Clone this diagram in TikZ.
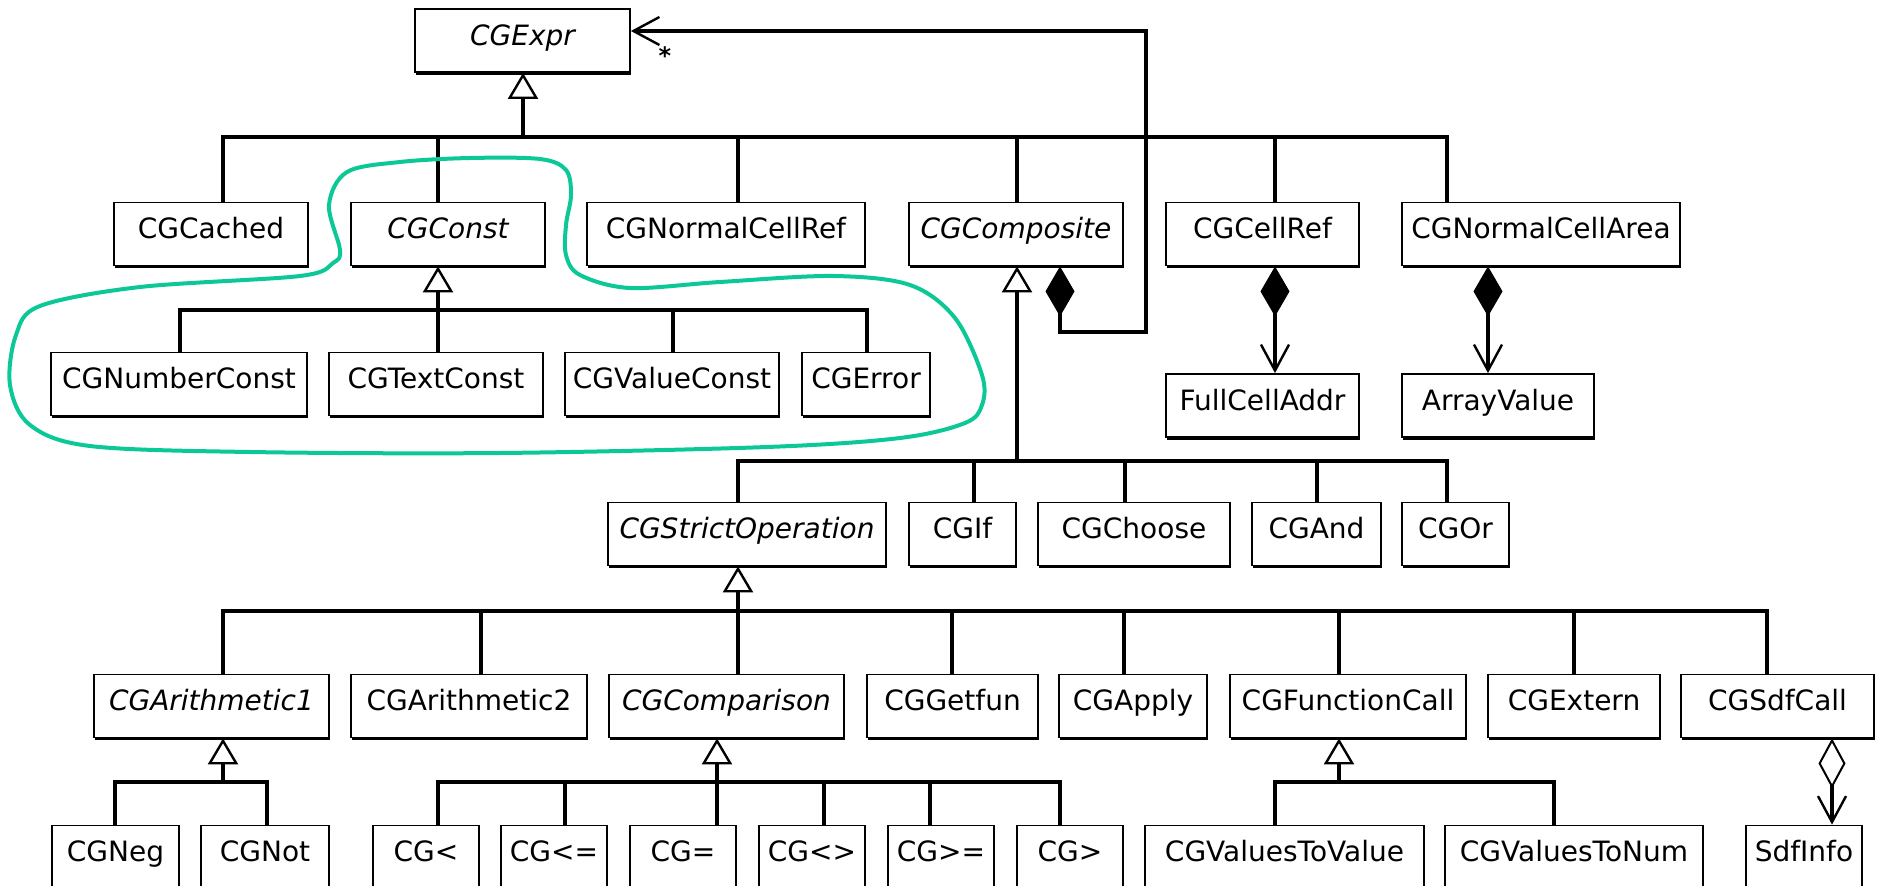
\documentclass[tikz,border=0pt]{standalone}
\usepackage{fontspec}
\setmainfont{DejaVu Sans}
\usetikzlibrary{arrows.meta,shadows}

\definecolor{marker}{RGB}{12,200,150}

\tikzset{
  cls/.style={draw, line width=1.8pt, fill=white, inner sep=0pt,
    minimum height=63pt, text height=21pt, text depth=12pt,
    font=\fontsize{28}{32}\selectfont,
    drop shadow={shadow xshift=1.3pt, shadow yshift=-2.8pt, fill=black, opacity=1}},
  absclass/.style={cls, font=\fontsize{28}{32}\selectfont\itshape},
  link/.style={line width=3.2pt},
  inherit/.style={link, -{Triangle[fill=white, length=26pt, width=30pt, line width=2.4pt]}},
  owns/.style={link, {Diamond[length=50pt, width=29pt, line width=1pt]}-{Straight Barb[length=26pt, width=28pt, line width=2.4pt]}},
  shares/.style={link, {Diamond[fill=white, length=50pt, width=27pt, line width=2pt]}-{Straight Barb[length=26pt, width=28pt, line width=2.4pt]}}
}

\begin{document}
\begin{tikzpicture}[x=1pt, y=-1pt]
\useasboundingbox (0,0) rectangle (1883,886);

% root
\node[absclass, minimum width=215pt] (nExpr) at (522.5,40.5) {CGExpr};
\node[font=\fontsize{24}{24}\selectfont\bfseries, inner sep=0pt, anchor=base] (nStar) at (665,64) {*};

% first level
\node[cls, minimum width=194pt] (nCached) at (211,234) {CGCached};
\node[absclass, minimum width=194pt] (nConst) at (448,234) {CGConst};
\node[cls, minimum width=278pt] (nNormalCellRef) at (726,234) {CGNormalCellRef};
\node[absclass, minimum width=214pt] (nComposite) at (1016,234) {CGComposite};
\node[cls, minimum width=193pt] (nCellRef) at (1262.5,234) {CGCellRef};
\node[cls, minimum width=278pt] (nNormalCellArea) at (1541,234) {CGNormalCellArea};

% constants
\node[cls, minimum width=256pt] (nNumberConst) at (179,384) {CGNumberConst};
\node[cls, minimum width=214pt] (nTextConst) at (436,384) {CGTextConst};
\node[cls, minimum width=214pt] (nValueConst) at (672,384) {CGValueConst};
\node[cls, minimum width=128pt] (nError) at (866,384) {CGError};

% owned parts
\node[cls, minimum width=193pt] (nFullCellAddr) at (1262.5,405.5) {FullCellAddr};
\node[cls, minimum width=192pt] (nArrayValue) at (1498,405.5) {ArrayValue};

% composites
\node[absclass, minimum width=278pt] (nStrictOp) at (747,534) {CGStrictOperation};
\node[cls, minimum width=107pt] (nIf) at (962.5,534) {CGIf};
\node[cls, minimum width=192pt] (nChoose) at (1134,534) {CGChoose};
\node[cls, minimum width=129pt] (nAnd) at (1316.5,534) {CGAnd};
\node[cls, minimum width=107pt] (nOr) at (1455.5,534) {CGOr};

% strict operations
\node[absclass, minimum width=235pt] (nArith1) at (211.5,706) {CGArithmetic1};
\node[cls, minimum width=236pt] (nArith2) at (469,706) {CGArithmetic2};
\node[absclass, minimum width=235pt] (nComparison) at (726.5,706) {CGComparison};
\node[cls, minimum width=171pt] (nGetfun) at (952.5,706) {CGGetfun};
\node[cls, minimum width=148pt] (nApply) at (1133,706) {CGApply};
\node[cls, minimum width=236pt] (nFunctionCall) at (1348,706) {CGFunctionCall};
\node[cls, minimum width=172pt] (nExtern) at (1574,706) {CGExtern};
\node[cls, minimum width=193pt] (nSdfCall) at (1777.5,706) {CGSdfCall};

% leaves
\node[cls, minimum width=127pt] (nNeg) at (115.5,857) {CGNeg};
\node[cls, minimum width=128pt] (nNot) at (265,857) {CGNot};
\node[cls, minimum width=106pt] (nLt) at (426,857) {CG<};
\node[cls, minimum width=106pt] (nLe) at (554,857) {CG<=};
\node[cls, minimum width=106pt] (nEq) at (683,857) {CG=};
\node[cls, minimum width=106pt] (nNe) at (812,857) {CG<>};
\node[cls, minimum width=106pt] (nGe) at (941,857) {CG>=};
\node[cls, minimum width=106pt] (nGt) at (1070,857) {CG>};
\node[cls, minimum width=279pt] (nValuesToValue) at (1284.5,857) {CGValuesToValue};
\node[cls, minimum width=258pt] (nValuesToNum) at (1574,857) {CGValuesToNum};
\node[cls, minimum width=116pt] (nSdfInfo) at (1804,857) {SdfInfo};

% bus junctions
\coordinate (jExpr) at (523,137);
\coordinate (jConst) at (438,310);
\coordinate (jComposite) at (1017,461);
\coordinate (jStrict) at (738,611);
\coordinate (jArith) at (223,782);
\coordinate (jComparison) at (717,782);
\coordinate (jFunction) at (1339,782);
\coordinate (loopTurn) at (1146,332);

% generalizations
\draw[inherit] (jExpr) -- (nExpr.south -| jExpr);
\draw[link] (jExpr) -| (nCached.north -| 223,0) (jExpr) -| (nConst.north -| 438,0)
  (jExpr) -| (nNormalCellRef.north -| 738,0) (jExpr) -| (nComposite.north -| 1017,0)
  (jExpr) -| (nCellRef.north -| 1275,0) (jExpr) -| (nNormalCellArea.north -| 1447,0);

\draw[inherit] (jConst) -- (nConst.south -| jConst);
\draw[link] (jConst) -| (nNumberConst.north -| 180,0) (jConst) -| (nTextConst.north -| 438,0)
  (jConst) -| (nValueConst.north -| 673,0) (jConst) -| (nError.north -| 867,0);

\draw[inherit] (jComposite) -- (nComposite.south -| jComposite);
\draw[link] (jComposite) -| (nStrictOp.north -| 738,0) (jComposite) -| (nIf.north -| 974,0)
  (jComposite) -| (nChoose.north -| 1125,0) (jComposite) -| (nAnd.north -| 1317,0)
  (jComposite) -| (nOr.north -| 1447,0);

\draw[inherit] (jStrict) -- (nStrictOp.south -| jStrict);
\draw[link] (jStrict) -| (nArith1.north -| 223,0) (jStrict) -| (nArith2.north -| 481,0)
  (jStrict) -| (nComparison.north -| 738,0) (jStrict) -| (nGetfun.north -| 952,0)
  (jStrict) -| (nApply.north -| 1124,0) (jStrict) -| (nFunctionCall.north -| 1339,0)
  (jStrict) -| (nExtern.north -| 1574,0) (jStrict) -| (nSdfCall.north -| 1767,0);

\draw[inherit] (jArith) -- (nArith1.south -| jArith);
\draw[link] (jArith) -| (nNeg.north -| 115,0) (jArith) -| (nNot.north -| 267,0);

\draw[inherit] (jComparison) -- (nComparison.south -| jComparison);
\draw[link] (jComparison) -| (nLt.north -| 438,0) (jComparison) -| (nLe.north -| 565,0)
  (jComparison) -| (nEq.north -| 717,0) (jComparison) -| (nNe.north -| 824,0)
  (jComparison) -| (nGe.north -| 930,0) (jComparison) -| (nGt.north -| 1060,0);

\draw[inherit] (jFunction) -- (nFunctionCall.south -| jFunction);
\draw[link] (jFunction) -| (nValuesToValue.north -| 1275,0) (jFunction) -| (nValuesToNum.north -| 1554,0);

% compositions and aggregation
\draw[owns] (nComposite.south -| 1060,0) |- (loopTurn) |- (nExpr.east |- 0,31);
\draw[owns] (nCellRef.south -| 1275,0) -- (nFullCellAddr.north -| 1275,0);
\draw[owns] (nNormalCellArea.south -| 1488,0) -- (nArrayValue.north -| 1488,0);
\draw[shares] (nSdfCall.south -| 1832,0) -- (nSdfInfo.north -| 1832,0);

% hand-drawn loop round the constants
\draw[marker, line width=4pt] plot[smooth cycle, tension=0.55] coordinates {
  (340,250) (329,205) (347,172) (400,162) (470,158) (540,159) (566,170) (571,195)
  (566,225) (566,255) (580,275) (630,288) (720,282) (833,276) (910,285) (955,318)
  (982,375) (982,405) (965,423) (900,438) (767,447) (500,453) (250,452) (90,446)
  (30,425) (10,385) (16,335) (40,306) (140,287) (300,276) (333,263)};
\end{tikzpicture}
\end{document}
